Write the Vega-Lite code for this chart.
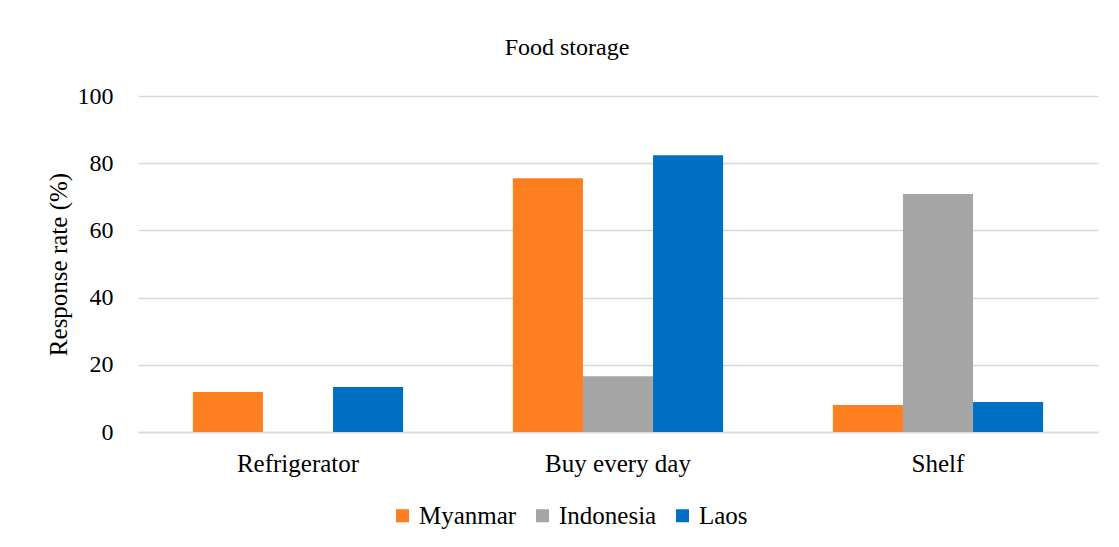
{
  "$schema": "https://vega.github.io/schema/vega-lite/v6.json",
  "width": 960,
  "height": 336,
  "autosize": {"type": "none"},
  "padding": {"left": 138, "top": 96, "right": 21, "bottom": 115},
  "background": "white",
  "title": {
    "text": "Food storage",
    "font": "Liberation Serif",
    "fontSize": 24,
    "fontWeight": "normal",
    "color": "#000000",
    "anchor": "middle",
    "dx": -51,
    "offset": 24
  },
  "data": {
    "values": [
      {"category": "Refrigerator", "country": "Myanmar", "rate": 11.9},
      {"category": "Refrigerator", "country": "Indonesia", "rate": 0},
      {"category": "Refrigerator", "country": "Laos", "rate": 13.4},
      {"category": "Buy every day", "country": "Myanmar", "rate": 75.5},
      {"category": "Buy every day", "country": "Indonesia", "rate": 16.6},
      {"category": "Buy every day", "country": "Laos", "rate": 82.4},
      {"category": "Shelf", "country": "Myanmar", "rate": 8.0},
      {"category": "Shelf", "country": "Indonesia", "rate": 70.8},
      {"category": "Shelf", "country": "Laos", "rate": 8.9}
    ]
  },
  "mark": {"type": "bar"},
  "encoding": {
    "x": {
      "field": "category",
      "type": "nominal",
      "sort": ["Refrigerator", "Buy every day", "Shelf"],
      "scale": {"paddingInner": 0.343, "paddingOuter": 0.1715},
      "axis": {
        "title": null,
        "labelAngle": 0,
        "labelFont": "Liberation Serif",
        "labelFontSize": 25,
        "labelColor": "#000000",
        "labelPadding": 19,
        "ticks": false,
        "domain": true,
        "domainColor": "#d9d9d9",
        "domainWidth": 1.5
      }
    },
    "xOffset": {
      "field": "country",
      "type": "nominal",
      "sort": ["Myanmar", "Indonesia", "Laos"],
      "scale": {"paddingInner": 0, "paddingOuter": 0}
    },
    "y": {
      "field": "rate",
      "type": "quantitative",
      "scale": {"domain": [0, 100], "nice": false},
      "axis": {
        "title": "Response rate (%)",
        "titleFont": "Liberation Serif",
        "titleFontSize": 25,
        "titleFontWeight": "normal",
        "titleColor": "#000000",
        "titlePadding": 6,
        "values": [0, 20, 40, 60, 80, 100],
        "labelFont": "Liberation Serif",
        "labelFontSize": 24,
        "labelColor": "#000000",
        "labelPadding": 25,
        "ticks": false,
        "domain": false,
        "grid": true,
        "gridColor": "#d9d9d9",
        "gridWidth": 1.5
      }
    },
    "color": {
      "field": "country",
      "type": "nominal",
      "sort": ["Myanmar", "Indonesia", "Laos"],
      "scale": {
        "domain": ["Myanmar", "Indonesia", "Laos"],
        "range": ["#fd7f20", "#a6a6a6", "#0070c4"]
      },
      "legend": {
        "title": null,
        "orient": "none",
        "legendX": 252,
        "legendY": 407,
        "direction": "horizontal",
        "symbolType": "square",
        "symbolSize": 170,
        "symbolStrokeWidth": 0,
        "labelFont": "Liberation Serif",
        "labelFontSize": 25,
        "labelColor": "#000000",
        "labelOffset": 4,
        "columnPadding": 13
      }
    }
  },
  "config": {
    "font": "Liberation Serif",
    "view": {"stroke": null}
  }
}
